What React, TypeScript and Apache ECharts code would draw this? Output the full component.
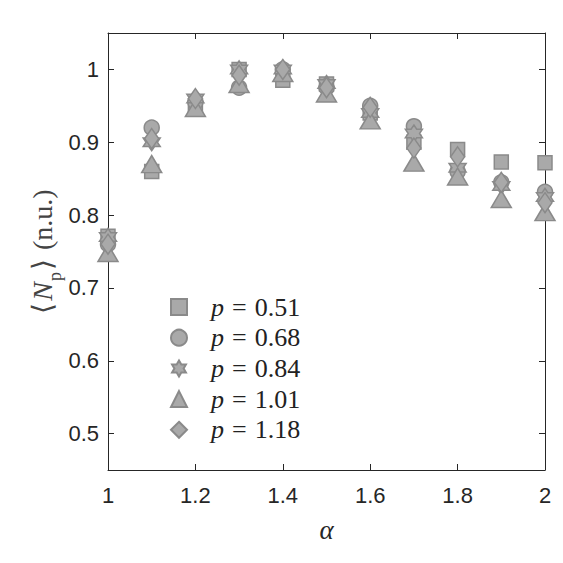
import React, { useEffect, useRef } from "react";
import * as echarts from "echarts";

const alpha = [1.0, 1.1, 1.2, 1.3, 1.4, 1.5, 1.6, 1.7, 1.8, 1.9, 2.0];
const p051 = [0.771, 0.86, 0.95, 1.0, 0.985, 0.98, 0.94, 0.9, 0.89, 0.873, 0.872];
const p068 = [0.76, 0.92, 0.955, 0.975, 1.0, 0.975, 0.95, 0.922, 0.86, 0.845, 0.832];
const p084 = [0.77, 0.9, 0.96, 1.0, 1.0, 0.98, 0.94, 0.912, 0.865, 0.84, 0.825];
const p101 = [0.748, 0.87, 0.947, 0.98, 0.995, 0.967, 0.93, 0.872, 0.853, 0.822, 0.804];
const p118 = [0.76, 0.905, 0.96, 0.992, 1.0, 0.975, 0.948, 0.892, 0.88, 0.845, 0.817];

const seriesNames = ["0.51", "0.68", "0.84", "1.01", "1.18"];
const xTickLabels = ["1", "1.2", "1.4", "1.6", "1.8", "2"];

const STAR =
  "path://M0,-10 L2.89,-5 L8.66,-5 L5.77,0 L8.66,5 L2.89,5 L0,10 L-2.89,5 L-8.66,5 L-5.77,0 L-8.66,-5 L-2.89,-5 Z";

const FILL = "#a9a9a9";
const STROKE = "#8a8a8a";
const AXIS = "#262626";
const SANS = "'Liberation Sans', Arial, sans-serif";
const SERIF = "'Liberation Serif', 'Times New Roman', serif";

export default function App() {
  const ref = useRef<HTMLDivElement>(null);
  useEffect(() => {
    if (!ref.current) return;
    const chart = echarts.init(ref.current, null, { renderer: "svg" });
    const seriesData = [p051, p068, p084, p101, p118];
    const symbols: any[] = ["rect", "circle", STAR, "triangle", "diamond"];
    const sizes: any[] = [14, 15, 17, [20, 17], [14, 20]];
    const series = seriesData.map((arr, i) => ({
      name: seriesNames[i],
      type: "scatter",
      data: arr.map((v, j) => [alpha[j], v]),
      symbol: symbols[i],
      symbolSize: sizes[i],
      symbolKeepAspect: false,
      clip: false,
      itemStyle: { color: FILL, borderColor: STROKE, borderWidth: 1.5, opacity: 1 },
      xAxisIndex: 0,
      yAxisIndex: 0,
    }));
    const axisCommon = {
      axisLine: { show: true, onZero: false, lineStyle: { color: AXIS, width: 1 } },
      axisTick: { show: true, inside: true, length: 6, lineStyle: { color: AXIS } },
      splitLine: { show: false },
    };
    chart.setOption({
      animation: false,
      backgroundColor: "#ffffff",
      grid: { left: 108, right: 18, top: 33, bottom: 93, outerBoundsMode: "none", containLabel: false },
      xAxis: [
        {
          type: "value",
          min: 1,
          max: 2,
          splitNumber: 5,
          position: "bottom",
          ...axisCommon,
          axisLabel: {
            color: AXIS,
            fontFamily: SANS,
            fontSize: 22,
            margin: 14,
            formatter: (v: number) => {
              const idx = Math.round((v - 1) / 0.2);
              return xTickLabels[idx] ?? String(v);
            },
          },
          name: "α",
          nameLocation: "middle",
          nameGap: 46,
          nameTextStyle: {
            fontFamily: SERIF,
            fontStyle: "italic",
            fontSize: 27,
            color: AXIS,
          },
        },
        {
          type: "value",
          min: 1,
          max: 2,
          splitNumber: 5,
          position: "top",
          ...axisCommon,
          axisLabel: { show: false },
        },
      ],
      yAxis: [
        {
          type: "value",
          min: 0.45,
          max: 1.05,
          splitNumber: 6,
          position: "left",
          ...axisCommon,
          axisLabel: {
            color: AXIS,
            fontFamily: SANS,
            fontSize: 22,
            margin: 9,
            showMinLabel: false,
            showMaxLabel: false,
          },
          name: "{a|⟨}{n|N}{s|p}{a|⟩}{b|(n.u.)}",
          nameLocation: "middle",
          nameGap: 50,
          nameMoveOverlap: false,
          nameRotate: 90,
          nameTextStyle: {
            color: "#444",
            fontSize: 28,
            fontFamily: SERIF,
            rich: {
              a: { fontSize: 28, fontFamily: SERIF, color: "#444", verticalAlign: "middle", lineHeight: 32 },
              n: { fontSize: 28, fontFamily: SERIF, fontStyle: "italic", color: "#444", verticalAlign: "middle", lineHeight: 32, padding: [0, 1, 0, 2] },
              s: { fontSize: 18, fontFamily: SERIF, color: "#444", verticalAlign: "bottom", lineHeight: 32, padding: [0, 2, -6, 0] },
              b: { fontSize: 28, fontFamily: SERIF, color: "#444", verticalAlign: "middle", lineHeight: 32, padding: [0, 0, 0, 9] },
            },
          },
        },
        {
          type: "value",
          min: 0.45,
          max: 1.05,
          splitNumber: 6,
          position: "right",
          ...axisCommon,
          axisLabel: { show: false },
        },
      ],
      legend: {
        orient: "vertical",
        left: 165,
        top: 289,
        itemWidth: 16,
        itemHeight: 16,
        itemGap: 4.7,
        formatter: (name: string) => `{p|p}{e|=}{t|${name}}`,
        textStyle: {
          color: "#222",
          fontFamily: SERIF,
          rich: {
            p: { fontFamily: SERIF, fontStyle: "italic", fontSize: 26, padding: [0, 0, 0, 19], lineHeight: 23 },
            e: { fontFamily: SERIF, fontSize: 26, lineHeight: 23, padding: [0, 8, 0, 8] },
            t: { fontFamily: SERIF, fontSize: 26, lineHeight: 23 },
          },
        },
      },
      series,
    });
    return () => chart.dispose();
  }, []);
  return (
    <div
      ref={ref}
      style={{ position: "fixed", left: 0, top: 0, width: 563, height: 563, background: "#fff" }}
    />
  );
}
